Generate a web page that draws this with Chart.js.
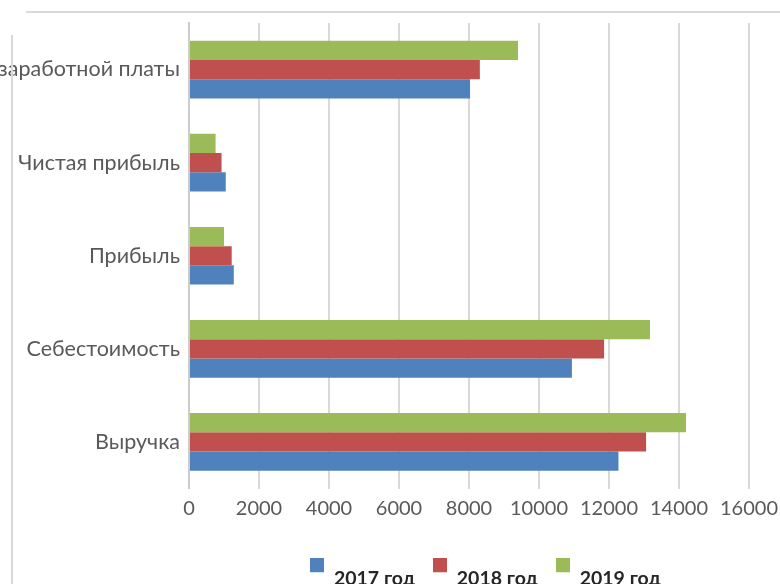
<!DOCTYPE html>
<html><head><meta charset="utf-8">
<script src="https://cdn.jsdelivr.net/npm/chart.js@4/dist/chart.umd.min.js"></script>
<style>
html,body{margin:0;padding:0;background:#fff;overflow:hidden;width:780px;height:584px}
#wrap{position:absolute;left:0;top:0;width:780px;height:598px}
.bt{position:absolute;left:26px;top:11px;width:760px;height:2px;background:#d9d9d9}
.bl{position:absolute;left:11px;top:35px;width:2px;height:560px;background:#d9d9d9}
</style></head><body>
<div id="wrap"><canvas id="c" width="780" height="598"></canvas></div>
<div class="bt"></div><div class="bl"></div>
<script>
const categories = ["Фонд заработной платы", "Чистая прибыль", "Прибыль", "Себестоимость", "Выручка"];
const seriesNames = ["2017 год", "2018 год", "2019 год"];
const values2017 = [8030, 1050, 1280, 10940, 12270];
const values2018 = [8310, 930, 1220, 11860, 13060];
const values2019 = [9400, 760, 1000, 13170, 14200];
const xTickValues = [0, 2000, 4000, 6000, 8000, 10000, 12000, 14000, 16000];
const xTickLabels = ["0", "2000", "4000", "6000", "8000", "10000", "12000", "14000", "16000"];
const colors = ["#4F81BD", "#C0504D", "#9BBB59"];

const FONT = "Lato";
const series = [values2017, values2018, values2019];

// Legend marker: a 14px square sitting above the text's centre line, as in the original.
function marker(color) {
  const c = document.createElement('canvas');
  c.width = 14; c.height = 40;
  const g = c.getContext('2d');
  g.fillStyle = color;
  g.fillRect(0, 0, 14, 14);
  return c;
}

// Excel draws the first series at the bottom of each group; Chart.js draws dataset 0 on top.
const datasets = [2, 1, 0].map(i => ({
  label: seriesNames[i],
  data: series[i],
  backgroundColor: colors[i],
  pointStyle: marker(colors[i]),
  borderWidth: 0,
  categoryPercentage: 0.62,
  barPercentage: 1.0
}));

// The legend in the original is centred under the plot rather than under the whole canvas.
const shiftLegend = {
  id: 'shiftLegend',
  afterLayout(chart) {
    const l = chart.legend;
    if (l) { l.left += 222; l.width = l.right - l.left; }
  }
};

new Chart(document.getElementById('c'), {
  type: 'bar',
  data: { labels: categories, datasets },
  plugins: [shiftLegend],
  options: {
    indexAxis: 'y',
    responsive: false,
    animation: false,
    layout: { padding: { top: 23, right: 31, left: 0, bottom: 0 } },
    plugins: {
      tooltip: { enabled: false },
      legend: {
        position: 'bottom',
        reverse: true,
        labels: {
          usePointStyle: true,
          boxWidth: 14, boxHeight: 14, padding: 18,
          color: '#262626',
          font: { family: FONT, size: 19.5, weight: 'bold' }
        }
      }
    },
    scales: {
      x: {
        min: 0, max: 16000,
        afterBuildTicks: s => { s.ticks = xTickValues.map(v => ({ value: v })); },
        afterFit: s => { s.height = 62; s.paddingRight = 0; s.paddingLeft = 0; },
        ticks: {
          padding: 8,
          color: '#595959',
          font: { family: FONT, size: 20 },
          maxRotation: 0,
          callback: (v) => xTickLabels[xTickValues.indexOf(v)]
        },
        grid: { color: '#d9d9d9', lineWidth: 2, drawTicks: false },
        border: { display: false }
      },
      y: {
        afterFit: s => { s.width = 189; },
        ticks: {
          padding: 9,
          color: '#595959',
          font: { family: FONT, size: 21.5 }
        },
        grid: { display: false, drawTicks: false },
        border: { display: true, color: '#cccccc', width: 2 }
      }
    }
  }
});
</script>
</body></html>
